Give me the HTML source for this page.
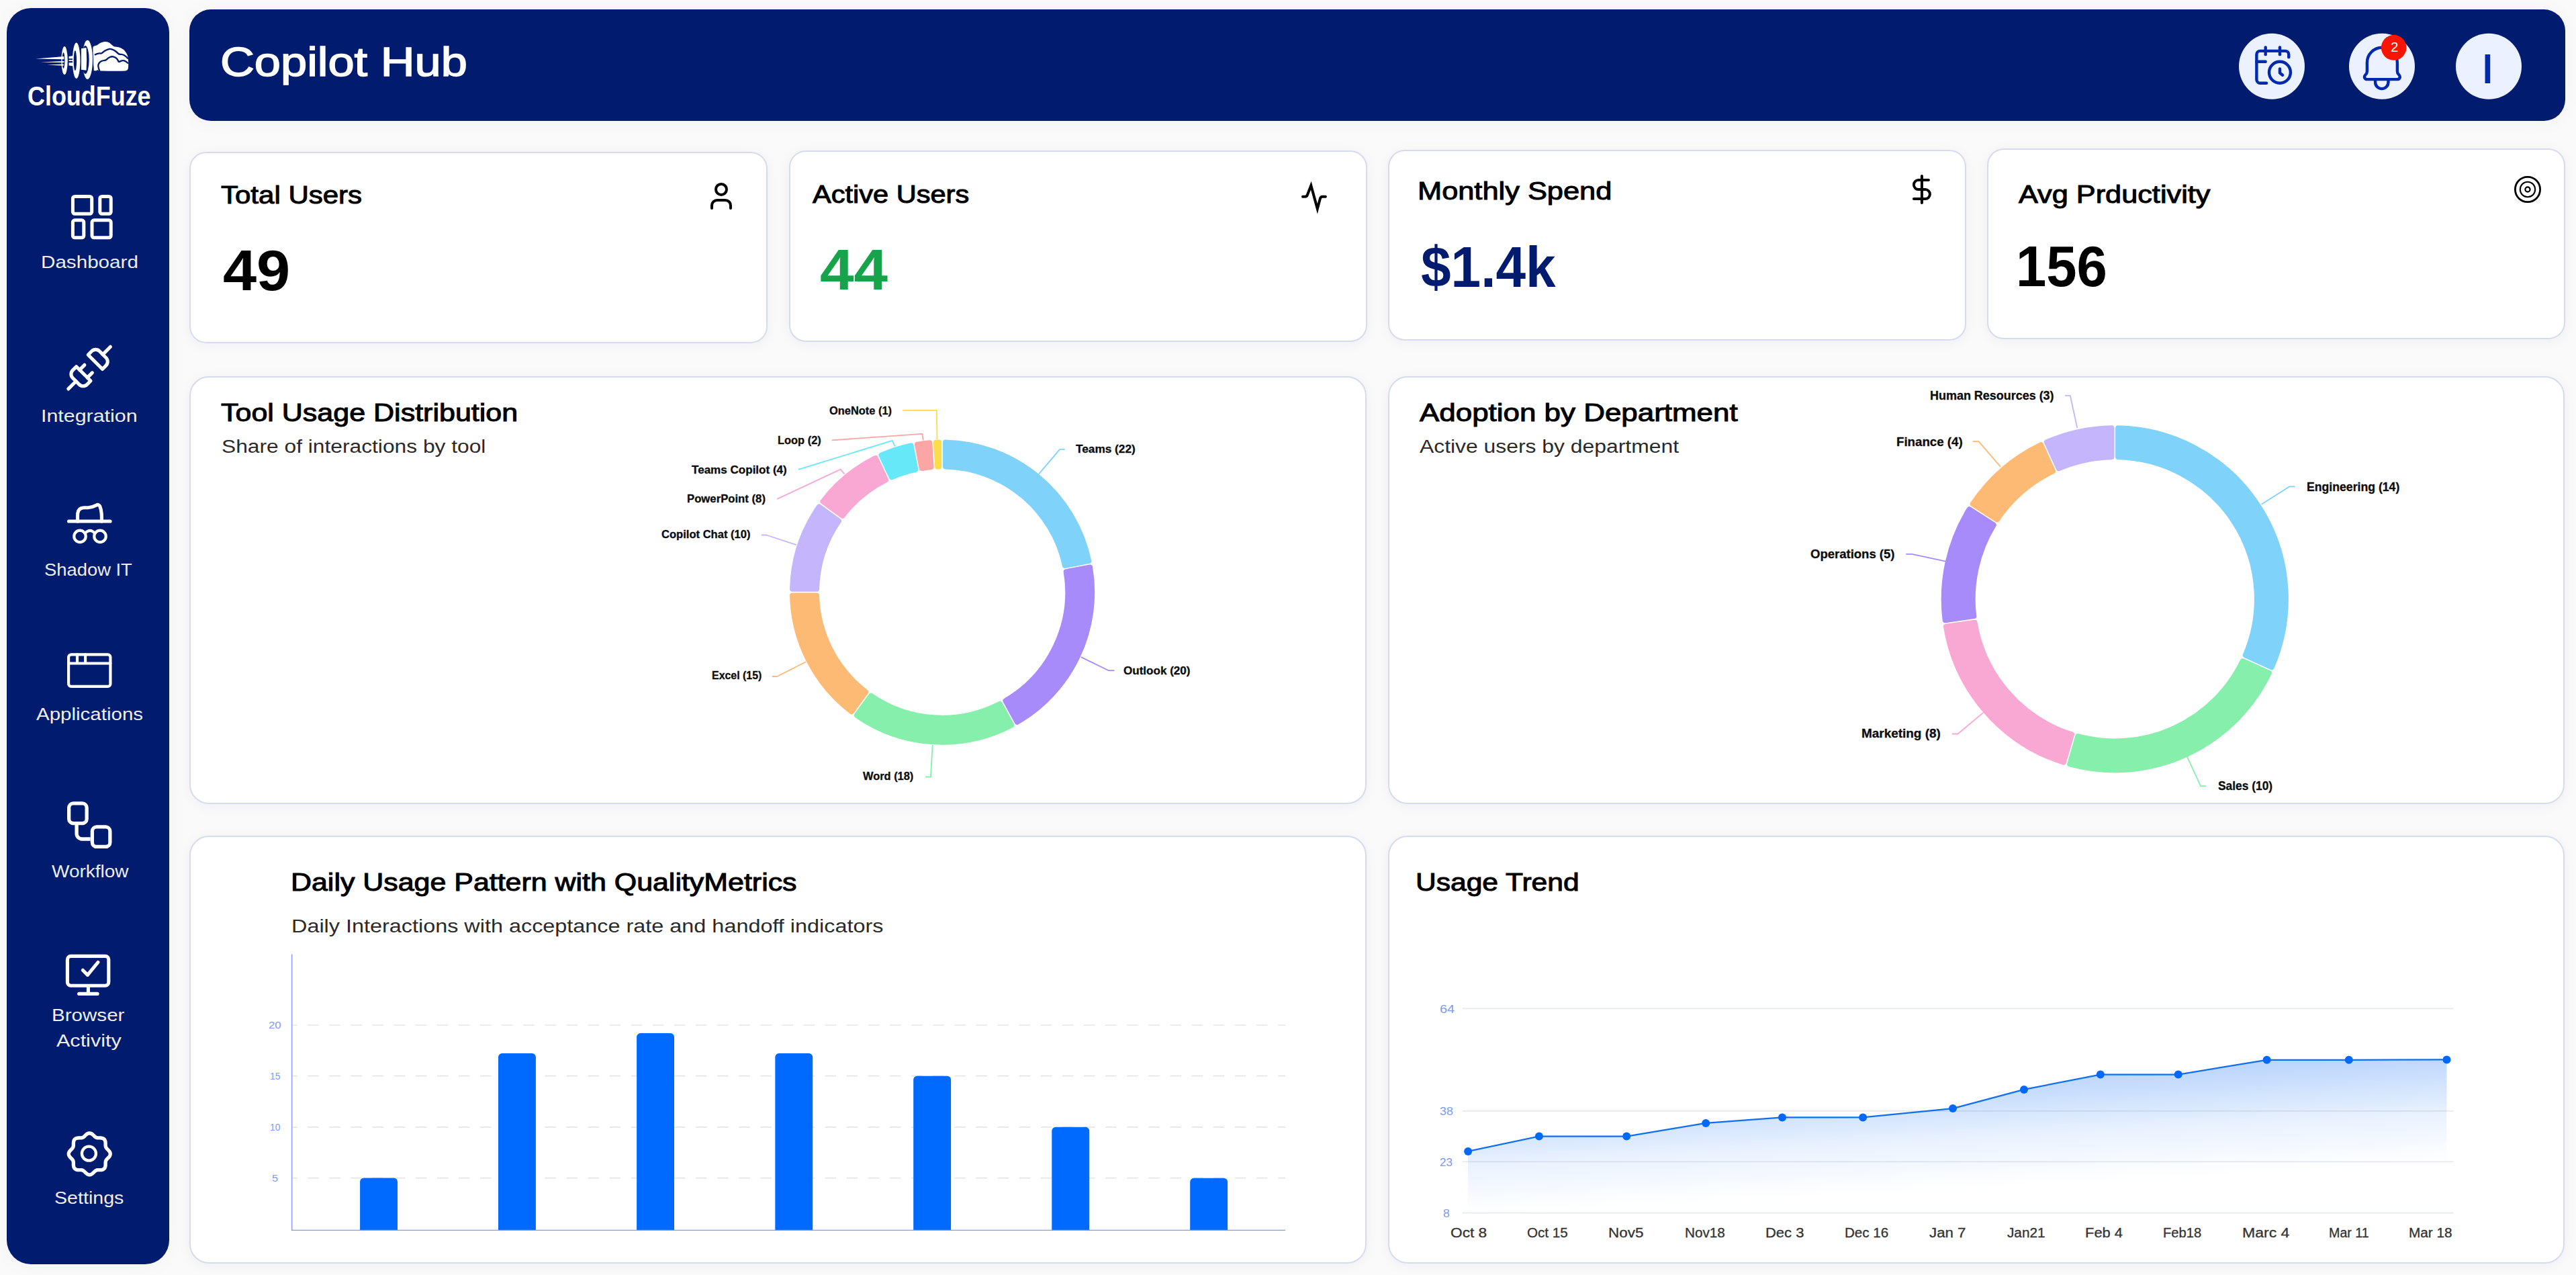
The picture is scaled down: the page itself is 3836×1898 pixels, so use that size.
<!DOCTYPE html>
<html lang="en"><head><meta charset="utf-8"><title>Copilot Hub</title>
<style>
html,body{margin:0;padding:0;background:#fafafb}
body{width:3836px;height:1898px;position:relative;overflow:hidden;background:#fafafb;font-family:"Liberation Sans",sans-serif}
.sb{position:absolute;left:10px;top:12px;width:242px;height:1870px;background:#011b6e;border-radius:36px;box-shadow:0 2px 30px rgba(10,20,60,.035)}
.hd{position:absolute;left:282px;top:14px;width:3538px;height:166px;background:#011b6e;border-radius:32px;box-shadow:0 2px 30px rgba(10,20,60,.035)}
.card{position:absolute;box-sizing:border-box;background:#fff;border:2px solid #d7dcec;border-radius:25px;box-shadow:0 3px 18px rgba(20,30,60,.05)}
.t{position:absolute;white-space:pre;line-height:1;transform-origin:0 0;font-family:"Liberation Sans",sans-serif}
svg.g{position:absolute;left:0;top:0}
</style></head><body>
<div class="sb"></div>
<div class="hd"></div>
<div class="card" style="left:282.4px;top:226.4px;width:860.8px;height:284.9px"></div>
<div class="card" style="left:1174.6px;top:224.4px;width:861.0px;height:284.8px"></div>
<div class="card" style="left:2066.7px;top:222.5px;width:860.9px;height:284.7px"></div>
<div class="card" style="left:2958.8px;top:220.7px;width:860.8px;height:284.5px"></div>
<div class="card" style="left:282.4px;top:560.4px;width:1752.6px;height:636.8px;border-radius:29px"></div>
<div class="card" style="left:2067px;top:560.4px;width:1752.4px;height:636.8px;border-radius:29px"></div>
<div class="card" style="left:282.4px;top:1243.8px;width:1752.8px;height:637.6px;border-radius:29px"></div>
<div class="card" style="left:2067px;top:1243.8px;width:1752.4px;height:637.6px;border-radius:29px"></div>
<svg class="g" width="3836" height="1898" viewBox="0 0 3836 1898">
<path d="M1407.90 658.55A223.10 223.10 0 0 1 1621.30 835.09L1585.93 841.84A187.10 187.10 0 0 0 1407.90 694.56Z" fill="#7fd3fb" stroke="#7fd3fb" stroke-width="8.00" stroke-linejoin="round"/>
<path d="M1623.10 844.52A223.10 223.10 0 0 1 1514.76 1074.75L1497.41 1043.19A187.10 187.10 0 0 0 1587.72 851.27Z" fill="#a78bfa" stroke="#a78bfa" stroke-width="8.00" stroke-linejoin="round"/>
<path d="M1506.35 1079.37A223.10 223.10 0 0 1 1275.88 1064.87L1297.04 1035.74A187.10 187.10 0 0 0 1489.00 1047.82Z" fill="#86efac" stroke="#86efac" stroke-width="8.00" stroke-linejoin="round"/>
<path d="M1268.11 1059.23A223.10 223.10 0 0 1 1180.05 886.40L1216.06 886.40A187.10 187.10 0 0 0 1289.28 1030.10Z" fill="#fdba74" stroke="#fdba74" stroke-width="8.00" stroke-linejoin="round"/>
<path d="M1180.05 876.80A223.10 223.10 0 0 1 1219.83 754.38L1248.96 775.54A187.10 187.10 0 0 0 1216.06 876.80Z" fill="#c4b5fd" stroke="#c4b5fd" stroke-width="8.00" stroke-linejoin="round"/>
<path d="M1225.47 746.61A223.10 223.10 0 0 1 1303.79 681.82L1319.12 714.41A187.10 187.10 0 0 0 1254.60 767.78Z" fill="#f9a8d4" stroke="#f9a8d4" stroke-width="8.00" stroke-linejoin="round"/>
<path d="M1312.47 677.74A223.10 223.10 0 0 1 1356.59 663.40L1363.34 698.77A187.10 187.10 0 0 0 1327.81 710.32Z" fill="#67e8f9" stroke="#67e8f9" stroke-width="8.00" stroke-linejoin="round"/>
<path d="M1366.02 661.60A223.10 223.10 0 0 1 1384.30 659.29L1386.57 695.23A187.10 187.10 0 0 0 1372.77 696.98Z" fill="#fca5a5" stroke="#fca5a5" stroke-width="8.00" stroke-linejoin="round"/>
<path d="M1393.89 658.69A223.10 223.10 0 0 1 1398.30 658.55L1398.30 694.56A187.10 187.10 0 0 0 1396.15 694.63Z" fill="#fcdc4a" stroke="#fcdc4a" stroke-width="8.00" stroke-linejoin="round"/>
<path d="M3154.10 637.25A254.60 254.60 0 0 1 3382.85 993.18L3343.72 975.31A211.60 211.60 0 0 0 3154.10 680.25Z" fill="#7fd3fb" stroke="#7fd3fb" stroke-width="8.00" stroke-linejoin="round"/>
<path d="M3378.86 1001.91A254.60 254.60 0 0 1 3082.19 1137.40L3094.31 1096.13A211.60 211.60 0 0 0 3339.73 984.05Z" fill="#86efac" stroke="#86efac" stroke-width="8.00" stroke-linejoin="round"/>
<path d="M3072.98 1134.69A254.60 254.60 0 0 1 2898.02 932.78L2940.59 926.66A211.60 211.60 0 0 0 3085.10 1093.42Z" fill="#f9a8d4" stroke="#f9a8d4" stroke-width="8.00" stroke-linejoin="round"/>
<path d="M2896.65 923.28A254.60 254.60 0 0 1 2932.56 758.22L2968.74 781.47A211.60 211.60 0 0 0 2939.22 917.15Z" fill="#a78bfa" stroke="#a78bfa" stroke-width="8.00" stroke-linejoin="round"/>
<path d="M2937.75 750.14A254.60 254.60 0 0 1 3039.19 662.24L3057.05 701.37A211.60 211.60 0 0 0 2973.93 773.39Z" fill="#fdba74" stroke="#fdba74" stroke-width="8.00" stroke-linejoin="round"/>
<path d="M3047.92 658.25A254.60 254.60 0 0 1 3144.50 637.25L3144.50 680.25A211.60 211.60 0 0 0 3065.79 697.38Z" fill="#c4b5fd" stroke="#c4b5fd" stroke-width="8.00" stroke-linejoin="round"/>
<polyline points="1344.3,610.9 1394.8,610.9 1395.5,654.0" fill="none" stroke="#fcdc4a" stroke-width="1.8" stroke-linejoin="round"/>
<polyline points="1238.7,655.4 1373.3,645.8 1374.9,655.4" fill="none" stroke="#fca5a5" stroke-width="1.8" stroke-linejoin="round"/>
<polyline points="1189.0,698.9 1328.8,655.9 1332.7,664.5" fill="none" stroke="#67e8f9" stroke-width="1.8" stroke-linejoin="round"/>
<polyline points="1157.2,742.9 1251.7,698.6 1257.6,705.9" fill="none" stroke="#f9a8d4" stroke-width="1.8" stroke-linejoin="round"/>
<polyline points="1133.9,796.5 1141.2,796.5 1185.9,811.2" fill="none" stroke="#c4b5fd" stroke-width="1.8" stroke-linejoin="round"/>
<polyline points="1149.9,1007.0 1157.2,1007.0 1200.0,985.2" fill="none" stroke="#fdba74" stroke-width="1.8" stroke-linejoin="round"/>
<polyline points="1378.1,1156.5 1385.9,1156.5 1388.7,1109.0" fill="none" stroke="#86efac" stroke-width="1.8" stroke-linejoin="round"/>
<polyline points="1547.0,705.6 1578.2,668.9 1585.7,668.9" fill="none" stroke="#7fd3fb" stroke-width="1.8" stroke-linejoin="round"/>
<polyline points="1609.8,978.1 1651.0,998.2 1659.5,998.2" fill="none" stroke="#a78bfa" stroke-width="1.8" stroke-linejoin="round"/>
<polyline points="2937.7,657.1 2946.5,657.1 2979.1,694.9" fill="none" stroke="#fdba74" stroke-width="1.8" stroke-linejoin="round"/>
<polyline points="2838.3,824.9 2847.1,824.9 2897.3,835.7" fill="none" stroke="#a78bfa" stroke-width="1.8" stroke-linejoin="round"/>
<polyline points="2906.7,1092.5 2915.5,1092.5 2953.3,1060.9" fill="none" stroke="#f9a8d4" stroke-width="1.8" stroke-linejoin="round"/>
<polyline points="3075.0,588.8 3082.8,588.8 3093.2,637.0" fill="none" stroke="#c4b5fd" stroke-width="1.8" stroke-linejoin="round"/>
<polyline points="3367.5,750.8 3409.0,724.4 3417.7,724.4" fill="none" stroke="#7fd3fb" stroke-width="1.8" stroke-linejoin="round"/>
<polyline points="3256.8,1126.1 3277.0,1170.1 3285.2,1170.1" fill="none" stroke="#86efac" stroke-width="1.8" stroke-linejoin="round"/>
<line x1="435.4" y1="1526" x2="1914" y2="1526" stroke="#e6e6e7" stroke-width="1.7" stroke-dasharray="16.5 15.61" stroke-dashoffset="9.4"/>
<line x1="435.4" y1="1601.6" x2="1914" y2="1601.6" stroke="#e6e6e7" stroke-width="1.7" stroke-dasharray="16.5 15.61" stroke-dashoffset="9.4"/>
<line x1="435.4" y1="1677.9" x2="1914" y2="1677.9" stroke="#e6e6e7" stroke-width="1.7" stroke-dasharray="16.5 15.61" stroke-dashoffset="9.4"/>
<line x1="435.4" y1="1753.6" x2="1914" y2="1753.6" stroke="#e6e6e7" stroke-width="1.7" stroke-dasharray="16.5 15.61" stroke-dashoffset="9.4"/>
<path d="M536.1 1831.4V1759.2a5.6 5.6 0 0 1 5.6 -5.6h44.7a5.6 5.6 0 0 1 5.6 5.6V1831.4Z" fill="#006afe"/>
<path d="M742.0 1831.4V1573.7a5.6 5.6 0 0 1 5.6 -5.6h44.7a5.6 5.6 0 0 1 5.6 5.6V1831.4Z" fill="#006afe"/>
<path d="M948.1 1831.4V1543.6a5.6 5.6 0 0 1 5.6 -5.6h44.7a5.6 5.6 0 0 1 5.6 5.6V1831.4Z" fill="#006afe"/>
<path d="M1154.3 1831.4V1573.7a5.6 5.6 0 0 1 5.6 -5.6h44.7a5.6 5.6 0 0 1 5.6 5.6V1831.4Z" fill="#006afe"/>
<path d="M1360.2 1831.4V1607.3a5.6 5.6 0 0 1 5.6 -5.6h44.7a5.6 5.6 0 0 1 5.6 5.6V1831.4Z" fill="#006afe"/>
<path d="M1566.3 1831.4V1683.4a5.6 5.6 0 0 1 5.6 -5.6h44.7a5.6 5.6 0 0 1 5.6 5.6V1831.4Z" fill="#006afe"/>
<path d="M1772.2 1831.4V1759.4a5.6 5.6 0 0 1 5.6 -5.6h44.7a5.6 5.6 0 0 1 5.6 5.6V1831.4Z" fill="#006afe"/>
<path d="M434.7 1420.4V1831.4H1914" fill="none" stroke="#7f9df8" stroke-width="1.35"/>
<line x1="2177.8" y1="1501.4" x2="3653.6" y2="1501.4" stroke="#e8e9ee" stroke-width="1.6"/>
<line x1="2177.8" y1="1653.9" x2="3653.6" y2="1653.9" stroke="#e8e9ee" stroke-width="1.6"/>
<line x1="2177.8" y1="1729.4" x2="3653.6" y2="1729.4" stroke="#e8e9ee" stroke-width="1.6"/>
<line x1="2177.8" y1="1805.6" x2="3653.6" y2="1805.6" stroke="#e8e9ee" stroke-width="1.6"/>
<defs><linearGradient id="ag" gradientUnits="userSpaceOnUse" x1="3644" y1="1572" x2="3652.4" y2="1731"><stop offset="0" stop-color="#1a73f5" stop-opacity="0.29"/><stop offset="0.55" stop-color="#1a73f5" stop-opacity="0.09"/><stop offset="1" stop-color="#1a73f5" stop-opacity="0"/></linearGradient></defs>
<polygon points="2186.1,1713.9 2291.9,1691.6 2422.2,1691.6 2540.2,1671.9 2654.0,1663.4 2774.1,1663.4 2908.0,1650.1 3014.0,1621.9 3127.8,1599.6 3243.7,1599.6 3375.6,1577.8 3497.8,1577.8 3643.5,1577.4 3643.5,1805.6 2186.1,1805.6" fill="url(#ag)"/>
<polyline points="2186.1,1713.9 2291.9,1691.6 2422.2,1691.6 2540.2,1671.9 2654.0,1663.4 2774.1,1663.4 2908.0,1650.1 3014.0,1621.9 3127.8,1599.6 3243.7,1599.6 3375.6,1577.8 3497.8,1577.8 3643.5,1577.4" fill="none" stroke="#0f6ff3" stroke-width="2.2" stroke-linejoin="round"/>
<circle cx="2186.1" cy="1713.9" r="6" fill="#0068fb"/>
<circle cx="2291.9" cy="1691.6" r="6" fill="#0068fb"/>
<circle cx="2422.2" cy="1691.6" r="6" fill="#0068fb"/>
<circle cx="2540.2" cy="1671.9" r="6" fill="#0068fb"/>
<circle cx="2654" cy="1663.4" r="6" fill="#0068fb"/>
<circle cx="2774.1" cy="1663.4" r="6" fill="#0068fb"/>
<circle cx="2908" cy="1650.1" r="6" fill="#0068fb"/>
<circle cx="3014" cy="1621.9" r="6" fill="#0068fb"/>
<circle cx="3127.8" cy="1599.6" r="6" fill="#0068fb"/>
<circle cx="3243.7" cy="1599.6" r="6" fill="#0068fb"/>
<circle cx="3375.6" cy="1577.8" r="6" fill="#0068fb"/>
<circle cx="3497.8" cy="1577.8" r="6" fill="#0068fb"/>
<circle cx="3643.5" cy="1577.4" r="6" fill="#0068fb"/>
<rect x="108.4" y="292.5" width="28.3" height="25.8" rx="3" fill="none" stroke="#fff" stroke-linecap="round" stroke-linejoin="round" stroke-width="5"/>
<rect x="148.8" y="292.5" width="16.4" height="25.8" rx="3" fill="none" stroke="#fff" stroke-linecap="round" stroke-linejoin="round" stroke-width="5"/>
<rect x="108.4" y="327.8" width="16.4" height="26" rx="3" fill="none" stroke="#fff" stroke-linecap="round" stroke-linejoin="round" stroke-width="5"/>
<rect x="137" y="327.8" width="28.2" height="26" rx="3" fill="none" stroke="#fff" stroke-linecap="round" stroke-linejoin="round" stroke-width="5"/>
<g transform="translate(133.1 547.6) rotate(-45)" fill="none" stroke="#fff" stroke-linecap="round" stroke-linejoin="round" stroke-width="5.1"><path d="M12.4 -15.05H20a8.2 8.2 0 0 1 8.2 8.2V6.85a8.2 8.2 0 0 1 -8.2 8.2H12.4Z"/><path d="M-12.4 -15.05H-20a8.2 8.2 0 0 0 -8.2 8.2V6.85a8.2 8.2 0 0 0 8.2 8.2H-12.4Z"/><path d="M28.2 0H44.3M-28.2 0H-44.3M-12.4 -8.15H-2.1M-12.4 8.15H-2.1"/></g>
<g fill="none" stroke="#fff" stroke-linecap="round" stroke-linejoin="round" stroke-width="5.1"><path d="M102.5 776H164.1"/><path d="M115.5 776V767Q115.5 756 125 755.8H131Q137 755.6 143 752.3Q147 750 148.7 753.5Q151.4 760 151.4 770V776"/></g><g fill="none" stroke="#fff" stroke-linecap="round" stroke-width="4.2"><circle cx="119" cy="798.4" r="8.7"/><circle cx="149" cy="798.4" r="8.7"/><path d="M126.6 794Q134 785.8 141.4 794"/></g>
<g fill="none" stroke="#fff" stroke-linecap="round" stroke-linejoin="round" stroke-width="4.2"><rect x="102.1" y="974.3" width="62.3" height="47.6" rx="4"/><path d="M102.1 987.5H164.4M115 974.3V987.5M127.1 974.3V987.5"/></g>
<g fill="none" stroke="#fff" stroke-linecap="round" stroke-linejoin="round" stroke-width="5.3"><rect x="102.65" y="1195.95" width="26.5" height="29.6" rx="6.5"/><rect x="137.35" y="1230.85" width="26.5" height="29.6" rx="6.5"/><path d="M114.1 1228V1241a8 8 0 0 0 8 8H134.7" stroke-linecap="butt"/></g>
<g fill="none" stroke="#fff" stroke-linecap="round" stroke-linejoin="round" stroke-width="5.1"><rect x="100.4" y="1423.4" width="61.4" height="43.8" rx="5"/><path d="M131.4 1469.8V1479.4M117.6 1479.4H145.1M123.3 1444.3L130.4 1451.4L145.9 1432.5"/></g>
<path d="M133.25 1686.80L134.86 1687.04L136.41 1687.73L137.85 1688.75L139.17 1689.96L140.38 1691.19L141.54 1692.27L142.73 1693.11L144.01 1693.64L145.43 1693.89L147.03 1693.94L148.75 1693.93L150.54 1694.01L152.28 1694.30L153.86 1694.91L155.17 1695.88L156.14 1697.19L156.75 1698.77L157.04 1700.51L157.12 1702.30L157.11 1704.02L157.16 1705.62L157.41 1707.04L157.94 1708.32L158.78 1709.51L159.86 1710.67L161.09 1711.88L162.30 1713.20L163.32 1714.64L164.01 1716.19L164.25 1717.80L164.01 1719.41L163.32 1720.96L162.30 1722.40L161.09 1723.72L159.86 1724.93L158.78 1726.09L157.94 1727.28L157.41 1728.56L157.16 1729.98L157.11 1731.58L157.12 1733.30L157.04 1735.09L156.75 1736.83L156.14 1738.41L155.17 1739.72L153.86 1740.69L152.28 1741.30L150.54 1741.59L148.75 1741.67L147.03 1741.66L145.43 1741.71L144.01 1741.96L142.73 1742.49L141.54 1743.33L140.38 1744.41L139.17 1745.64L137.85 1746.85L136.41 1747.87L134.86 1748.56L133.25 1748.80L131.64 1748.56L130.09 1747.87L128.65 1746.85L127.33 1745.64L126.12 1744.41L124.96 1743.33L123.77 1742.49L122.49 1741.96L121.07 1741.71L119.47 1741.66L117.75 1741.67L115.96 1741.59L114.22 1741.30L112.64 1740.69L111.33 1739.72L110.36 1738.41L109.75 1736.83L109.46 1735.09L109.38 1733.30L109.39 1731.58L109.34 1729.98L109.09 1728.56L108.56 1727.28L107.72 1726.09L106.64 1724.93L105.41 1723.72L104.20 1722.40L103.18 1720.96L102.49 1719.41L102.25 1717.80L102.49 1716.19L103.18 1714.64L104.20 1713.20L105.41 1711.88L106.64 1710.67L107.72 1709.51L108.56 1708.32L109.09 1707.04L109.34 1705.62L109.39 1704.02L109.38 1702.30L109.46 1700.51L109.75 1698.77L110.36 1697.19L111.33 1695.88L112.64 1694.91L114.22 1694.30L115.96 1694.01L117.75 1693.93L119.47 1693.94L121.07 1693.89L122.49 1693.64L123.77 1693.11L124.96 1692.27L126.12 1691.19L127.33 1689.96L128.65 1688.75L130.09 1687.73L131.64 1687.04L133.25 1686.80Z" fill="none" stroke="#fff" stroke-linecap="round" stroke-linejoin="round" stroke-width="5.3"/>
<circle cx="132.4" cy="1717.2" r="10.5" fill="none" stroke="#fff" stroke-linecap="round" stroke-linejoin="round" stroke-width="4.3"/>
<ellipse cx="96.06" cy="90.06" rx="4.71" ry="21.06" fill="#fff"/>
<ellipse cx="113.71" cy="90.24" rx="5.76" ry="26.76" fill="#fff"/>
<ellipse cx="130.29" cy="88.76" rx="7.65" ry="29.12" fill="#fff"/>
<ellipse cx="94.53" cy="89.94" rx="1.94" ry="12.06" fill="#011b6e"/>
<ellipse cx="111.88" cy="90.24" rx="2.24" ry="15.00" fill="#011b6e"/>
<ellipse cx="127.06" cy="88.94" rx="5.59" ry="21.06" fill="#011b6e"/>
<path d="M52.94 87.59L95.29 84.06L95.29 88.18Z" fill="#fff"/>
<path d="M60.88 92.47L95.29 91.00L95.29 93.35Z" fill="#fff"/>
<path d="M70.29 96.41L94.82 95.41L94.82 97.76Z" fill="#fff"/>
<path d="M102.53 83.94L109.00 83.00L109.00 87.29L102.53 87.18Z" fill="#fff"/>
<path d="M102.53 89.18L107.94 89.18L107.94 90.94L102.53 90.94Z" fill="#fff"/>
<path d="M102.53 93.18L109.00 93.18L109.00 98.47L102.53 97.41Z" fill="#fff"/>
<path d="M120.88 72.29L128.53 70.94L129.12 88.76L128.53 104.76L120.88 103.76Z" fill="#fff"/>
<path d="M150.74 105.44Q139.71 105.24 139.32 96.26Q138.94 87.29 138.59 78.18Q138.24 69.06 139.85 68.65Q141.47 68.24 142.79 67.82Q144.12 67.41 145.29 66.65Q146.47 65.88 147.65 65.03Q148.82 64.18 150.29 63.53Q151.76 62.88 154.56 62.24Q157.35 61.59 160.29 62.62Q163.24 63.65 165.44 65.71Q167.65 67.76 168.97 68.71Q170.29 69.65 173.38 69.74Q176.47 69.82 180.15 71.50Q183.82 73.18 186.38 76.41Q188.94 79.65 190.00 83.03Q191.06 86.41 191.18 93.91Q191.29 101.41 190.41 103.09Q189.53 104.76 187.71 105.32Q185.88 105.88 173.82 105.76Q161.76 105.65 150.74 105.44Z" fill="#fff"/>
<path d="M138.53 69.65L144.12 67.88L144.12 105.24L139.82 105.24Z" fill="#fff"/>
<g fill="none" stroke="#011b6e" stroke-width="2.3" stroke-linecap="butt" stroke-linejoin="round"><path d="M140.88 81.59Q146.47 79.18 148.97 79.47Q151.47 79.76 152.50 78.53Q153.53 77.29 155.59 75.97Q157.65 74.65 160.59 73.56Q163.53 72.47 166.47 73.35Q169.41 74.24 171.76 76.00Q174.12 77.76 175.59 79.35Q177.06 80.94 179.71 80.82Q182.35 80.71 185.00 82.18Q187.65 83.65 191.06 87.59"/><path d="M148.12 105.24Q145.76 99.06 146.41 96.47Q147.06 93.88 149.18 92.06Q151.29 90.24 154.41 90.09Q157.53 89.94 159.29 88.09Q161.06 86.24 163.76 85.00Q166.47 83.76 169.41 84.59Q172.35 85.41 174.06 87.53Q175.76 89.65 176.18 91.12Q176.59 92.59 179.47 91.12Q182.35 89.65 185.00 90.47Q187.65 91.29 191.06 94.47"/></g>
<circle cx="3383" cy="98.8" r="49" fill="#ebf1fe"/>
<circle cx="3547" cy="98.8" r="49" fill="#ebf1fe"/>
<circle cx="3706" cy="98.8" r="49" fill="#ebf1fe"/>
<g transform="translate(3352.4 65.2) scale(2.66)" fill="none" stroke="#0029ad" stroke-linecap="round" stroke-linejoin="round" stroke-width="1.66"><path d="M21 7.5V6a2 2 0 0 0-2-2H5a2 2 0 0 0-2 2v14a2 2 0 0 0 2 2h3.5"/><path d="M16 2v4"/><path d="M8 2v4"/><path d="M3 10h5"/><path d="M17.5 17.5 16 16.3V14"/><circle cx="16" cy="16" r="6"/></g>
<g fill="none" stroke="#0029ad" stroke-linecap="round" stroke-linejoin="round" stroke-width="4.4"><path d="M3524.9 93.2A22.5 22.5 0 0 1 3569.9 93.2V106Q3569.9 109 3572 111Q3574.6 113.6 3573.5 116Q3572.5 118.1 3570 118.1H3525Q3522.3 118.1 3521.3 116Q3520.2 113.6 3522.8 111Q3524.9 109 3524.9 106Z"/><path d="M3537.1 118.1v4.3a9.7 9.7 0 0 0 19.4 0v-4.3"/></g>
<circle cx="3564.7" cy="70.9" r="18.8" fill="#fb1402"/>
<g transform="translate(1050 267.9) scale(2)" fill="none" stroke="#000" stroke-linecap="round" stroke-linejoin="round" stroke-width="2"><path d="M19 21v-2a4 4 0 0 0-4-4H9a4 4 0 0 0-4 4v2"/><circle cx="12" cy="7" r="4"/></g>
<path d="M1940 292.8H1943.2Q1945.9 292.8 1946.8 290.3L1952.3 276.2L1961.8 310.8L1965.9 295.6Q1966.7 292.8 1969.6 292.8H1973.9" fill="none" stroke="#000" stroke-width="4" stroke-linecap="round" stroke-linejoin="miter" stroke-miterlimit="10"/>
<g transform="translate(2837.9 258.1) scale(2)" fill="none" stroke="#000" stroke-linecap="round" stroke-linejoin="round" stroke-width="2"><path d="M12 2v20"/><path d="M17 5H9.5a3.5 3.5 0 0 0 0 7h5a3.5 3.5 0 0 1 0 7H6"/></g>
<g fill="none" stroke="#000"><circle cx="3764" cy="282" r="18.6" stroke-width="2.8"/><circle cx="3764" cy="282" r="11.2" stroke-width="2.1"/><circle cx="3764" cy="282" r="3.6" stroke-width="2.2"/></g>
</svg>
<span class="t" style="left:41.28px;top:122.87px;font-size:40.55px;transform:scaleX(0.8860);color:#fff;font-weight:700;">CloudFuze</span>
<span class="t" style="left:61.39px;top:376.78px;font-size:26.02px;transform:scaleX(1.1383);color:#fff;opacity:0.93;">Dashboard</span>
<span class="t" style="left:60.83px;top:605.78px;font-size:26.02px;transform:scaleX(1.1678);color:#fff;opacity:0.93;">Integration</span>
<span class="t" style="left:66.44px;top:835.18px;font-size:26.02px;transform:scaleX(1.0519);color:#fff;opacity:0.93;">Shadow IT</span>
<span class="t" style="left:54.20px;top:1049.58px;font-size:26.02px;transform:scaleX(1.1343);color:#fff;opacity:0.93;">Applications</span>
<span class="t" style="left:76.70px;top:1283.78px;font-size:26.02px;transform:scaleX(1.0757);color:#fff;opacity:0.93;">Workflow</span>
<span class="t" style="left:77.09px;top:1497.88px;font-size:26.02px;transform:scaleX(1.1366);color:#fff;opacity:0.93;">Browser</span>
<span class="t" style="left:83.90px;top:1536.18px;font-size:26.02px;transform:scaleX(1.1736);color:#fff;opacity:0.93;">Activity</span>
<span class="t" style="left:80.51px;top:1770.38px;font-size:26.02px;transform:scaleX(1.0998);color:#fff;opacity:0.93;">Settings</span>
<span class="t" style="left:327.70px;top:61.64px;font-size:60.32px;transform:scaleX(1.1675);color:#fff;-webkit-text-stroke:1.5px #fff;">Copilot Hub</span>
<span class="t" style="left:3559.84px;top:61.39px;font-size:19.50px;transform:scaleX(1.0503);color:#fff;">2</span>
<span class="t" style="left:3697.38px;top:70.75px;font-size:62.79px;transform:scaleX(0.8460);color:#0029ad;font-weight:700;">I</span>
<span class="t" style="left:329.44px;top:273.25px;font-size:36.92px;transform:scaleX(1.1382);color:#000;-webkit-text-stroke:1.0px #000;">Total Users</span>
<span class="t" style="left:332.00px;top:360.45px;font-size:85.00px;transform:scaleX(1.0603);color:#000;font-weight:700;">49</span>
<span class="t" style="left:1210.00px;top:272.15px;font-size:36.92px;transform:scaleX(1.1260);color:#000;-webkit-text-stroke:1.0px #000;">Active Users</span>
<span class="t" style="left:1221.00px;top:358.85px;font-size:85.00px;transform:scaleX(1.0685);color:#16a34a;font-weight:700;">44</span>
<span class="t" style="left:2110.61px;top:267.45px;font-size:36.92px;transform:scaleX(1.1752);color:#000;-webkit-text-stroke:1.0px #000;">Monthly Spend</span>
<span class="t" style="left:2115.50px;top:354.75px;font-size:85.00px;transform:scaleX(0.9430);color:#011b6e;font-weight:700;">$1.4k</span>
<span class="t" style="left:3005.50px;top:272.15px;font-size:36.92px;transform:scaleX(1.1726);color:#000;-webkit-text-stroke:1.0px #000;">Avg Prductivity</span>
<span class="t" style="left:3001.91px;top:353.95px;font-size:85.00px;transform:scaleX(0.9584);color:#000;font-weight:700;">156</span>
<span class="t" style="left:328.73px;top:597.12px;font-size:36.48px;transform:scaleX(1.1790);color:#000;-webkit-text-stroke:1.0px #000;">Tool Usage Distribution</span>
<span class="t" style="left:330.41px;top:651.12px;font-size:27.62px;transform:scaleX(1.1494);color:#2a2a2a;">Share of interactions by tool</span>
<span class="t" style="left:2114.20px;top:597.32px;font-size:36.48px;transform:scaleX(1.2044);color:#000;-webkit-text-stroke:1.0px #000;">Adoption by Department</span>
<span class="t" style="left:2114.20px;top:650.92px;font-size:27.62px;transform:scaleX(1.1538);color:#2a2a2a;">Active users by department</span>
<span class="t" style="left:432.75px;top:1295.86px;font-size:36.19px;transform:scaleX(1.1863);color:#000;-webkit-text-stroke:1.0px #000;">Daily Usage Pattern with QualityMetrics</span>
<span class="t" style="left:433.57px;top:1365.17px;font-size:27.33px;transform:scaleX(1.1849);color:#2a2a2a;">Daily Interactions with acceptance rate and handoff indicators</span>
<span class="t" style="left:2108.34px;top:1295.86px;font-size:36.19px;transform:scaleX(1.1760);color:#000;-webkit-text-stroke:1.0px #000;">Usage Trend</span>
<span class="t" style="left:1235.39px;top:603.89px;font-size:15.84px;transform:scaleX(1.0370);color:#0c0c0c;font-weight:700;-webkit-text-stroke:0.3px #0c0c0c;">OneNote (1)</span>
<span class="t" style="left:1157.77px;top:647.99px;font-size:15.84px;transform:scaleX(1.0376);color:#0c0c0c;font-weight:700;-webkit-text-stroke:0.3px #0c0c0c;">Loop (2)</span>
<span class="t" style="left:1030.40px;top:691.99px;font-size:15.84px;transform:scaleX(1.0772);color:#0c0c0c;font-weight:700;-webkit-text-stroke:0.3px #0c0c0c;">Teams Copilot (4)</span>
<span class="t" style="left:1022.85px;top:735.49px;font-size:15.84px;transform:scaleX(1.0554);color:#0c0c0c;font-weight:700;-webkit-text-stroke:0.3px #0c0c0c;">PowerPoint (8)</span>
<span class="t" style="left:984.58px;top:788.49px;font-size:15.84px;transform:scaleX(1.0464);color:#0c0c0c;font-weight:700;-webkit-text-stroke:0.3px #0c0c0c;">Copilot Chat (10)</span>
<span class="t" style="left:1059.50px;top:997.79px;font-size:15.84px;transform:scaleX(1.0067);color:#0c0c0c;font-weight:700;-webkit-text-stroke:0.3px #0c0c0c;">Excel (15)</span>
<span class="t" style="left:1285.20px;top:1148.39px;font-size:15.84px;transform:scaleX(1.0361);color:#0c0c0c;font-weight:700;-webkit-text-stroke:0.3px #0c0c0c;">Word (18)</span>
<span class="t" style="left:1601.80px;top:661.49px;font-size:15.84px;transform:scaleX(1.0885);color:#0c0c0c;font-weight:700;-webkit-text-stroke:0.3px #0c0c0c;">Teams (22)</span>
<span class="t" style="left:1673.47px;top:990.79px;font-size:15.84px;transform:scaleX(1.0771);color:#0c0c0c;font-weight:700;-webkit-text-stroke:0.3px #0c0c0c;">Outlook (20)</span>
<span class="t" style="left:2823.73px;top:648.59px;font-size:18.02px;transform:scaleX(1.0368);color:#0c0c0c;font-weight:700;-webkit-text-stroke:0.3px #0c0c0c;">Finance (4)</span>
<span class="t" style="left:2696.42px;top:816.39px;font-size:18.02px;transform:scaleX(1.0276);color:#0c0c0c;font-weight:700;-webkit-text-stroke:0.3px #0c0c0c;">Operations (5)</span>
<span class="t" style="left:2771.92px;top:1083.49px;font-size:18.02px;transform:scaleX(1.0509);color:#0c0c0c;font-weight:700;-webkit-text-stroke:0.3px #0c0c0c;">Marketing (8)</span>
<span class="t" style="left:2873.98px;top:580.19px;font-size:18.02px;transform:scaleX(0.9966);color:#0c0c0c;font-weight:700;-webkit-text-stroke:0.3px #0c0c0c;">Human Resources (3)</span>
<span class="t" style="left:3434.80px;top:715.89px;font-size:18.02px;transform:scaleX(0.9797);color:#0c0c0c;font-weight:700;-webkit-text-stroke:0.3px #0c0c0c;">Engineering (14)</span>
<span class="t" style="left:3302.53px;top:1161.09px;font-size:18.02px;transform:scaleX(0.9636);color:#0c0c0c;font-weight:700;-webkit-text-stroke:0.3px #0c0c0c;">Sales (10)</span>
<span class="t" style="left:400.41px;top:1519.17px;font-size:14.80px;transform:scaleX(1.1364);color:#7c9af6;">20</span>
<span class="t" style="left:401.73px;top:1594.77px;font-size:14.80px;transform:scaleX(0.9439);color:#7c9af6;">15</span>
<span class="t" style="left:401.74px;top:1671.07px;font-size:14.80px;transform:scaleX(0.9296);color:#7c9af6;">10</span>
<span class="t" style="left:405.49px;top:1746.77px;font-size:14.80px;transform:scaleX(1.1020);color:#7c9af6;">5</span>
<span class="t" style="left:2143.66px;top:1493.74px;font-size:17.20px;transform:scaleX(1.1622);color:#7c9af6;">64</span>
<span class="t" style="left:2144.04px;top:1646.34px;font-size:17.20px;transform:scaleX(1.0393);color:#7c9af6;">38</span>
<span class="t" style="left:2144.40px;top:1721.84px;font-size:17.20px;transform:scaleX(0.9927);color:#7c9af6;">23</span>
<span class="t" style="left:2148.95px;top:1798.14px;font-size:17.20px;transform:scaleX(1.0203);color:#7c9af6;">8</span>
<span class="t" style="left:2159.64px;top:1825.77px;font-size:19.77px;transform:scaleX(1.1470);color:#333;-webkit-text-stroke:0.3px #333;">Oct 8</span>
<span class="t" style="left:2274.33px;top:1825.77px;font-size:19.77px;transform:scaleX(1.0442);color:#333;-webkit-text-stroke:0.3px #333;">Oct 15</span>
<span class="t" style="left:2395.45px;top:1825.77px;font-size:19.77px;transform:scaleX(1.1347);color:#333;-webkit-text-stroke:0.3px #333;">Nov5</span>
<span class="t" style="left:2509.38px;top:1825.77px;font-size:19.77px;transform:scaleX(1.0475);color:#333;-webkit-text-stroke:0.3px #333;">Nov18</span>
<span class="t" style="left:2628.88px;top:1825.77px;font-size:19.77px;transform:scaleX(1.1117);color:#333;-webkit-text-stroke:0.3px #333;">Dec 3</span>
<span class="t" style="left:2746.99px;top:1825.77px;font-size:19.77px;transform:scaleX(1.0417);color:#333;-webkit-text-stroke:0.3px #333;">Dec 16</span>
<span class="t" style="left:2872.65px;top:1825.77px;font-size:19.77px;transform:scaleX(1.1260);color:#333;-webkit-text-stroke:0.3px #333;">Jan 7</span>
<span class="t" style="left:2989.28px;top:1825.77px;font-size:19.77px;transform:scaleX(1.0484);color:#333;-webkit-text-stroke:0.3px #333;">Jan21</span>
<span class="t" style="left:3105.29px;top:1825.77px;font-size:19.77px;transform:scaleX(1.1090);color:#333;-webkit-text-stroke:0.3px #333;">Feb 4</span>
<span class="t" style="left:3220.82px;top:1825.77px;font-size:19.77px;transform:scaleX(1.0204);color:#333;-webkit-text-stroke:0.3px #333;">Feb18</span>
<span class="t" style="left:3339.20px;top:1825.77px;font-size:19.77px;transform:scaleX(1.1649);color:#333;-webkit-text-stroke:0.3px #333;">Marc 4</span>
<span class="t" style="left:3467.56px;top:1825.77px;font-size:19.77px;transform:scaleX(0.9946);color:#333;-webkit-text-stroke:0.3px #333;">Mar 11</span>
<span class="t" style="left:3587.18px;top:1825.77px;font-size:19.77px;transform:scaleX(1.0511);color:#333;-webkit-text-stroke:0.3px #333;">Mar 18</span>
</body></html>
